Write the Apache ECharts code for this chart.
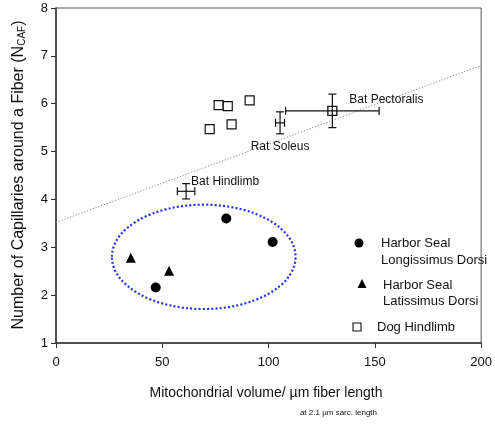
<!DOCTYPE html>
<html>
<head>
<meta charset="utf-8">
<script src="https://cdn.jsdelivr.net/npm/echarts@6/dist/echarts.min.js"></script>
<style>
  html, body { margin: 0; padding: 0; background: #fff; }
  #chart { width: 495px; height: 426px; }
</style>
</head>
<body>
<div id="chart"></div>
<script>
// Axis ticks
const xTicks = [0, 50, 100, 150, 200];
const yTicks = [1, 2, 3, 4, 5, 6, 7, 8];

// Dog hindlimb muscles: [mito volume, capillaries]
const dogHindlimb = [[76.5, 5.97], [80.8, 5.95], [72.3, 5.47], [82.6, 5.57], [91.1, 6.07]];
// Harbor seal muscles
const sealLongissimus = [[80.1, 3.6], [46.9, 2.16], [101.9, 3.11]];
const sealLatissimus = [[35.2, 2.78], [53.2, 2.51]];

// Means with error: [x, y, xErr, yErr]
const batPectoralis = [130, 5.85, 22, 0.35];
const ratSoleus = [105.4, 5.6, 2.1, 0.23];
const batHindlimb = [61.2, 4.17, 4.1, 0.16];
const errorNames = ['Bat Pectoralis', 'Rat Soleus', 'Bat Hindlimb'];

// Regression line end points
const trendLine = [[0, 3.52], [200, 6.8]];

// Seal group outline: [cx, cy, rx, ry] in data units
const sealOutline = [[69.5, 2.8, 43.2, 1.09]];

const FONT = '"Liberation Sans", Arial, sans-serif';
const INK = '#111';

const chart = echarts.init(document.getElementById('chart'), null, { renderer: 'canvas' });

// label placement for the error-bar means: [dx, dy, align]
const labelPlace = {
  'Bat Pectoralis': [17, -11, 'left'],
  'Rat Soleus': [0, 24, 'center'],
  'Bat Hindlimb': [5, -10, 'left']
};

function renderError(params, api) {
  const x = api.value(0), y = api.value(1), ex = api.value(2), ey = api.value(3);
  const c = api.coord([x, y]);
  const l = api.coord([x - ex, y]), r = api.coord([x + ex, y]);
  const t = api.coord([x, y + ey]), b = api.coord([x, y - ey]);
  const cap = 4;
  const st = { stroke: INK, lineWidth: 1.2 };
  const name = errorNames[params.dataIndex];
  const lp = labelPlace[name];
  const children = [
    { type: 'line', shape: { x1: l[0], y1: c[1], x2: r[0], y2: c[1] }, style: st },
    { type: 'line', shape: { x1: l[0], y1: c[1] - cap, x2: l[0], y2: c[1] + cap }, style: st },
    { type: 'line', shape: { x1: r[0], y1: c[1] - cap, x2: r[0], y2: c[1] + cap }, style: st },
    { type: 'line', shape: { x1: c[0], y1: t[1], x2: c[0], y2: b[1] }, style: st },
    { type: 'line', shape: { x1: c[0] - cap, y1: t[1], x2: c[0] + cap, y2: t[1] }, style: st },
    { type: 'line', shape: { x1: c[0] - cap, y1: b[1], x2: c[0] + cap, y2: b[1] }, style: st },
    {
      type: 'text',
      style: {
        text: name, x: c[0] + lp[0], y: c[1] + lp[1],
        align: lp[2], verticalAlign: 'middle',
        font: '12px ' + FONT, fill: INK
      }
    }
  ];
  if (name === 'Bat Pectoralis') {
    children.push({
      type: 'rect', shape: { x: c[0] - 4.5, y: c[1] - 4.5, width: 9, height: 9 },
      style: { fill: 'none', stroke: INK, lineWidth: 1.3 }
    });
  }
  return { type: 'group', children };
}

function renderOutline(params, api) {
  const c = api.coord([api.value(0), api.value(1)]);
  const rx = api.size([api.value(2), 0])[0];
  const ry = api.size([0, api.value(3)])[1];
  return {
    type: 'ellipse',
    shape: { cx: c[0], cy: c[1], rx: rx, ry: ry },
    style: { fill: 'none', stroke: '#1f2ff0', lineWidth: 2.2, lineDash: [2, 2.2] }
  };
}

const option = {
  animation: false,
  backgroundColor: '#fff',
  grid: {
    left: 56, right: 12, top: 8, bottom: 83,
    show: true, borderColor: '#555', borderWidth: 1, backgroundColor: 'transparent'
  },
  xAxis: {
    type: 'value', min: xTicks[0], max: xTicks[xTicks.length - 1], interval: 50,
    axisLine: { lineStyle: { color: '#333', width: 1.5 } },
    axisTick: { show: true, length: 5, lineStyle: { color: '#333' } },
    axisLabel: { color: INK, fontSize: 13, fontFamily: FONT, margin: 13 },
    splitLine: { show: false }
  },
  yAxis: {
    type: 'value', min: yTicks[0], max: yTicks[yTicks.length - 1], interval: 1,
    axisLine: { show: true, lineStyle: { color: '#333', width: 1.5 } },
    axisTick: { show: true, length: 5, lineStyle: { color: '#333' } },
    axisLabel: { color: INK, fontSize: 13, fontFamily: FONT, margin: 8 },
    splitLine: { show: false }
  },
  series: [
    {
      name: 'trend', type: 'line', data: trendLine, symbol: 'none', silent: true,
      lineStyle: { color: '#888', width: 1, type: [1.2, 1.8] }, z: 1
    },
    {
      name: 'Dog Hindlimb', type: 'scatter', data: dogHindlimb,
      symbol: 'rect', symbolSize: 9,
      itemStyle: { color: '#fff', borderColor: INK, borderWidth: 1.2, opacity: 1 }
    },
    {
      name: 'Harbor Seal Longissimus Dorsi', type: 'scatter', data: sealLongissimus,
      symbol: 'circle', symbolSize: 10, itemStyle: { color: '#000', opacity: 1 }
    },
    {
      name: 'Harbor Seal Latissimus Dorsi', type: 'scatter', data: sealLatissimus,
      symbol: 'triangle', symbolSize: 10, itemStyle: { color: '#000', opacity: 1 }
    },
    {
      name: 'means', type: 'custom', data: [batPectoralis, ratSoleus, batHindlimb],
      renderItem: renderError, z: 3
    },
    {
      name: 'seal group', type: 'custom', data: sealOutline,
      renderItem: renderOutline, z: 4
    }
  ],
  graphic: [
    {
      type: 'text', x: 19, y: 175, rotation: Math.PI / 2,
      style: {
        text: 'Number of Capillaries around a Fiber (N{s|CAF})',
        align: 'center', verticalAlign: 'middle',
        font: '16px ' + FONT, fill: INK,
        rich: { s: { fontSize: 10, fontFamily: FONT, verticalAlign: 'bottom', padding: [7, 0, 0, 0] } }
      }
    },
    {
      type: 'text', x: 266, y: 393,
      style: { text: 'Mitochondrial volume/ \u00b5m fiber length', align: 'center', verticalAlign: 'middle', font: '14px ' + FONT, fill: INK }
    },
    {
      type: 'text', x: 377, y: 413,
      style: { text: 'at 2.1 \u00b5m sarc. length', align: 'right', verticalAlign: 'middle', font: '8px ' + FONT, fill: INK }
    },
    // key
    { type: 'circle', shape: { cx: 359, cy: 243, r: 4.5 }, style: { fill: '#000' } },
    { type: 'text', x: 381, y: 243, style: { text: 'Harbor Seal', verticalAlign: 'middle', font: '13px ' + FONT, fill: INK } },
    { type: 'text', x: 381, y: 260, style: { text: 'Longissimus Dorsi', verticalAlign: 'middle', font: '13px ' + FONT, fill: INK } },
    { type: 'polygon', shape: { points: [[362, 279], [366.5, 288], [357.5, 288]] }, style: { fill: '#000' } },
    { type: 'text', x: 383, y: 285, style: { text: 'Harbor Seal', verticalAlign: 'middle', font: '13px ' + FONT, fill: INK } },
    { type: 'text', x: 383, y: 301, style: { text: 'Latissimus Dorsi', verticalAlign: 'middle', font: '13px ' + FONT, fill: INK } },
    { type: 'rect', shape: { x: 353, y: 323, width: 8, height: 8 }, style: { fill: '#fff', stroke: INK, lineWidth: 1.1 } },
    { type: 'text', x: 377, y: 327, style: { text: 'Dog Hindlimb', verticalAlign: 'middle', font: '13px ' + FONT, fill: INK } }
  ]
};

chart.setOption(option);
</script>
</body>
</html>
